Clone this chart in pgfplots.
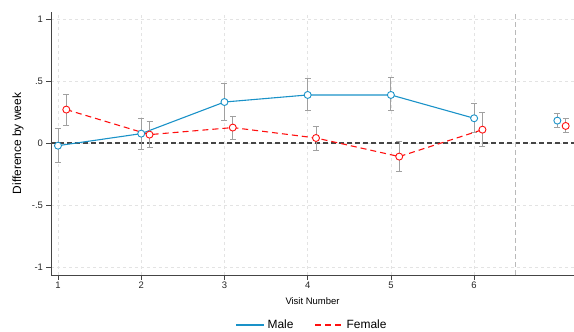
\documentclass[border=0pt]{standalone}
\usepackage{pgfplots}
\pgfplotsset{compat=1.18}
\usepackage{pgfplotstable}
\usepackage{fontspec}
\setmainfont{Liberation Sans}
\definecolor{maleblue}{HTML}{1A92C8}
\definecolor{femred}{HTML}{FF1010}
\definecolor{errgray}{HTML}{A0A0A0}
\definecolor{zerogray}{HTML}{454545}

\pgfplotstableread{
x y ep em
1 -0.022 0.137 0.139
2 0.075 0.125 0.125
3 0.330 0.148 0.150
4 0.387 0.133 0.129
5 0.387 0.140 0.129
6 0.199 0.118 0.116
}\maletab
\pgfplotstableread{
x y ep em
1.1 0.269 0.123 0.126
2.1 0.067 0.105 0.105
3.1 0.124 0.088 0.092
4.1 0.040 0.097 0.099
5.1 -0.110 0.120 0.116
6.1 0.107 0.137 0.137
}\femtab
\pgfplotstableread{
x y ep em
7 0.180 0.056 0.059
}\maleext
\pgfplotstableread{
x y ep em
7.1 0.137 0.057 0.056
}\femext

\begin{document}
\begin{tikzpicture}
\useasboundingbox (-51bp,-57bp) rectangle (523bp,12bp+263bp);
\begin{axis}[
  scale only axis,
  width=523bp, height=263bp,
  at={(0,0)}, anchor=south west,
  xmin=0.916, xmax=7.2,
  ymin=-1.065, ymax=1.056,
  axis x line*=bottom, axis y line*=left,
  axis line style={zerogray, line width=0.9bp},
  xtick={1,2,3,4,5,6},
  ytick={-1,-0.5,0,0.5,1},
  yticklabels={-1,-.5,0,.5,1},
  /pgf/number format/assume math mode=true,
  tick align=outside,
  major tick length=4.5bp,
  tick style={zerogray, line width=0.8bp},
  ticklabel style={font=\fontsize{9.5}{11}\selectfont, text=black!85},
  xticklabel style={yshift=1bp},
  grid=major,
  major grid style={dashed, gray!22, line width=0.7bp},
  xlabel={Visit Number},
  xlabel style={at={(axis description cs:0.5,0)}, anchor=center, yshift=-26bp, font=\fontsize{9.5}{11}\selectfont},
  ylabel={Difference by week},
  ylabel style={at={(axis description cs:0,0.5)}, anchor=center, yshift=33bp, font=\fontsize{12}{14}\selectfont},
  legend style={at={(axis description cs:0.5,0)}, anchor=center, yshift=-50bp, draw=none, fill=none, font=\fontsize{12}{14}\selectfont, /tikz/every even column/.append style={column sep=18bp}, /tikz/every node/.append style={inner xsep=3bp}},
  legend columns=2,
  legend image code/.code={\draw[#1] (0bp,0bp) -- (28bp,0bp);},
  clip=false,
]
% reference lines
\draw[zerogray, line width=1.2bp, dash pattern=on 5bp off 3bp] (axis cs:0.916,0) -- (axis cs:7.2,0);
\draw[gray!55, line width=0.8bp, dash pattern=on 5bp off 3bp] (axis cs:6.5,-1.065) -- (axis cs:6.5,1.056);

\addplot[maleblue, line width=1.1bp, mark=*, mark size=3.5bp, mark options={fill=white, draw=maleblue, solid, line width=0.9bp},
  error bars/.cd, y dir=both, y explicit,
  error bar style={errgray, line width=0.9bp, solid},
  error mark options={errgray, rotate=90, mark size=3bp, line width=0.9bp}]
  table[x=x, y=y, y error plus=ep, y error minus=em] {\maletab};
\addplot[femred, line width=1.1bp, dash pattern=on 6bp off 4bp, mark=*, mark size=3.5bp, mark options={fill=white, draw=femred, solid, line width=0.9bp},
  error bars/.cd, y dir=both, y explicit,
  error bar style={errgray, line width=0.9bp, solid},
  error mark options={errgray, rotate=90, mark size=3bp, line width=0.9bp}]
  table[x=x, y=y, y error plus=ep, y error minus=em] {\femtab};
\addplot[maleblue, only marks, mark=*, mark size=3.5bp, mark options={fill=white, draw=maleblue, solid, line width=0.9bp}, forget plot,
  error bars/.cd, y dir=both, y explicit,
  error bar style={errgray, line width=0.9bp, solid},
  error mark options={errgray, rotate=90, mark size=3bp, line width=0.9bp}]
  table[x=x, y=y, y error plus=ep, y error minus=em] {\maleext};
\addplot[femred, only marks, mark=*, mark size=3.5bp, mark options={fill=white, draw=femred, solid, line width=0.9bp}, forget plot,
  error bars/.cd, y dir=both, y explicit,
  error bar style={errgray, line width=0.9bp, solid},
  error mark options={errgray, rotate=90, mark size=3bp, line width=0.9bp}]
  table[x=x, y=y, y error plus=ep, y error minus=em] {\femext};
\legend{Male, Female}
\end{axis}
\end{tikzpicture}
\end{document}
